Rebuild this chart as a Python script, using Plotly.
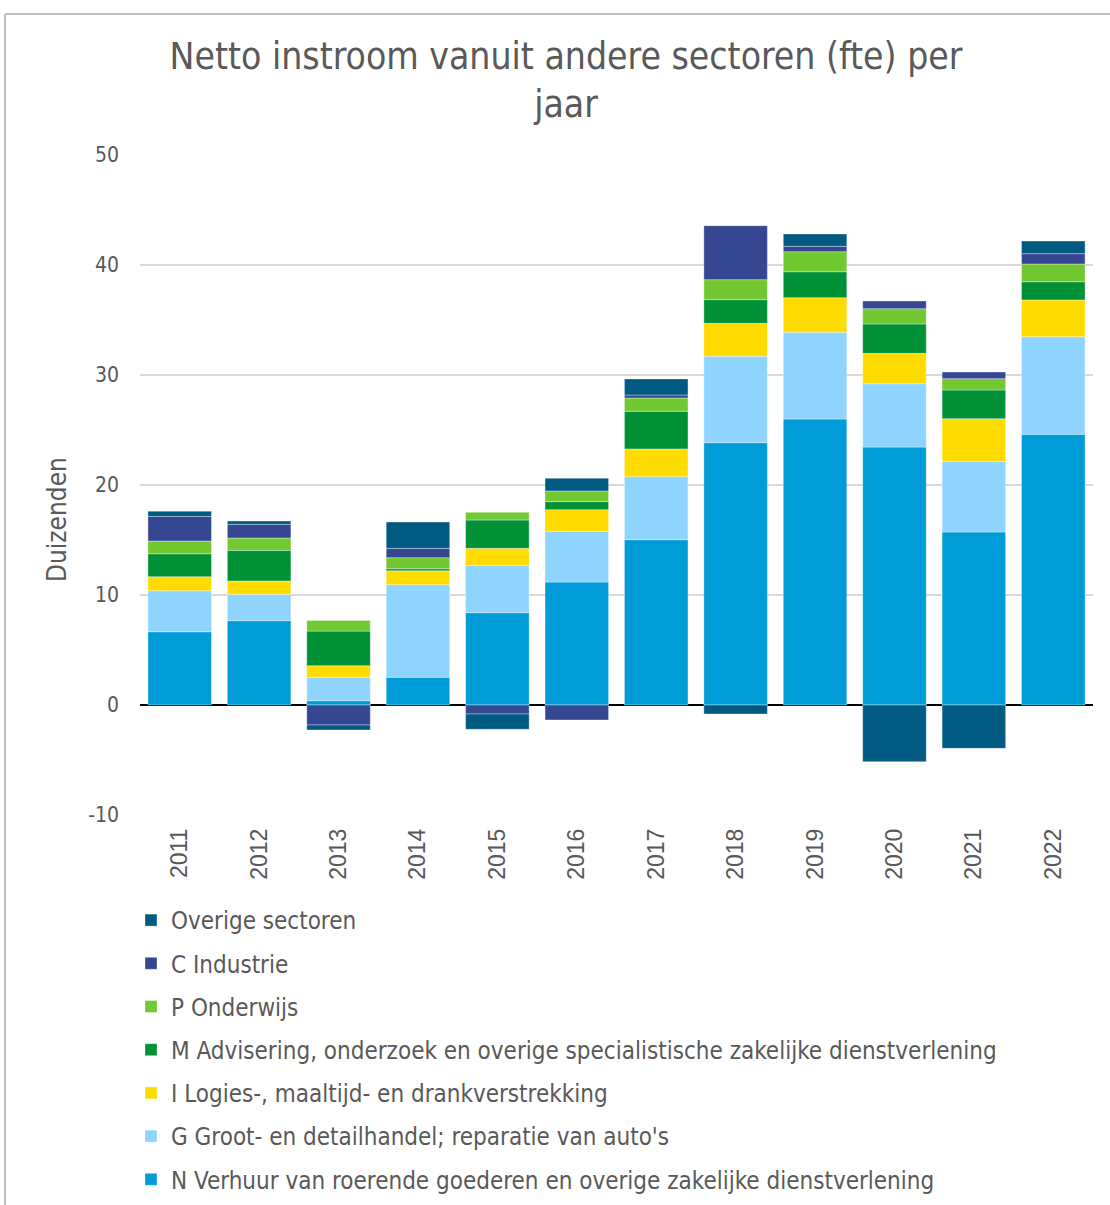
import plotly.graph_objects as go

# Jaren (categorie-as)
years = ["2011", "2012", "2013", "2014", "2015", "2016",
         "2017", "2018", "2019", "2020", "2021", "2022"]

# Netto instroom per herkomstsector, in duizenden fte
n_verhuur = [6.66, 7.67, 0.39, 2.52, 8.39, 11.18, 15.03, 23.85, 26.0, 23.45, 15.73, 24.61]
g_handel = [3.73, 2.39, 2.12, 8.42, 4.30, 4.61, 5.73, 7.85, 7.88, 5.76, 6.42, 8.87]
i_horeca = [1.27, 1.21, 1.06, 1.27, 1.55, 1.97, 2.52, 3.00, 3.15, 2.76, 3.88, 3.34]
m_advies = [2.09, 2.79, 3.15, 0.18, 2.58, 0.73, 3.42, 2.15, 2.36, 2.67, 2.61, 1.66]
p_onderwijs = [1.15, 1.12, 0.97, 1.00, 0.70, 0.97, 1.21, 1.82, 1.82, 1.39, 1.03, 1.61]
c_industrie = [2.24, 1.24, -1.82, 0.85, -0.82, -1.36, 0.27, 4.90, 0.49, 0.70, 0.60, 0.94]
overige = [0.48, 0.30, -0.45, 2.39, -1.39, 1.15, 1.46, -0.82, 1.12, -5.15, -3.94, 1.15]

# y-as: waarden en labels (koppelteken als minteken)
y_ticks = [-10, 0, 10, 20, 30, 40, 50]
y_ticklabels = ["-10", "0", "10", "20", "30", "40", "50"]

series = [
    ("N Verhuur van roerende goederen en overige zakelijke dienstverlening", n_verhuur, "#009cd8"),
    ("G Groot- en detailhandel; reparatie van auto's", g_handel, "#8fd3ff"),
    ("I Logies-, maaltijd- en drankverstrekking", i_horeca, "#ffdb00"),
    ("M Advisering, onderzoek en overige specialistische zakelijke dienstverlening", m_advies, "#009035"),
    ("P Onderwijs", p_onderwijs, "#71c830"),
    ("C Industrie", c_industrie, "#354793"),
    ("Overige sectoren", overige, "#005a82"),
]

TEXT = "#595959"
FONT = "DejaVu Sans Condensed"

fig = go.Figure()
n_series = len(series)
for i, (name, vals, color) in enumerate(series):
    fig.add_trace(go.Bar(
        x=years, y=vals, name=name, legendgroup=f"g{i}",
        legendrank=(n_series - i) * 10,  # bovenste laag eerst in de legenda
        marker=dict(color=color, line=dict(color="rgba(255,255,255,0.35)", width=1)),
    ))

W, H = 1110, 1205
L, R, T, B = 140, 17, 155, 390
pw, ph = W - L - R, H - T - B

def px_x(p):
    return (p - L) / pw

def px_y(p):
    return (H - B - p) / ph

# kader rond de grafiek
frame = dict(type="line", xref="paper", yref="paper",
             line=dict(color="#bfbfbf", width=2), layer="above")
fig.add_shape(**frame, x0=px_x(5), x1=px_x(1130), y0=px_y(14), y1=px_y(14))
fig.add_shape(**frame, x0=px_x(5), x1=px_x(5), y0=px_y(14), y1=px_y(1230))

fig.add_annotation(
    text="Duizenden", textangle=-90, showarrow=False,
    xref="paper", yref="paper", x=px_x(57), y=px_y(520),
    xanchor="center", yanchor="middle",
    font=dict(family=FONT, size=26, color=TEXT),
)

fig.update_layout(
    width=W, height=H,
    margin=dict(l=L, r=R, t=T, b=B, autoexpand=False),
    paper_bgcolor="white", plot_bgcolor="white",
    barmode="relative", bargap=0.2,
    title=dict(
        text="Netto instroom vanuit andere sectoren (fte) per<br>jaar",
        x=566 / W, xanchor="center", xref="container",
        y=1 - 69 / H, yanchor="top", yref="container",
        font=dict(family=FONT, size=37, color=TEXT),
    ),
    font=dict(family=FONT, color=TEXT),
    showlegend=True,
    legend=dict(
        traceorder="grouped", orientation="v",
        x=px_x(131), xanchor="left", y=px_y(898), yanchor="top",
        font=dict(family=FONT, size=24, color=TEXT),
        tracegroupgap=9, itemwidth=30,
        bgcolor="rgba(0,0,0,0)",
    ),
    xaxis=dict(
        type="category", tickangle=-90, showgrid=False, showline=False,
        ticks="", ticklabelstandoff=8,
        tickfont=dict(family="Liberation Sans", size=23, color=TEXT),
    ),
    yaxis=dict(
        range=[-10, 50], tickvals=y_ticks, ticktext=y_ticklabels,
        showgrid=True, gridcolor="#d9d9d9", gridwidth=1.5,
        zeroline=True, zerolinecolor="#000000", zerolinewidth=1.5,
        showline=False, ticks="", ticklabelstandoff=20,
        tickfont=dict(family=FONT, size=21, color=TEXT),
    ),
)

fig.write_html("out.html")
